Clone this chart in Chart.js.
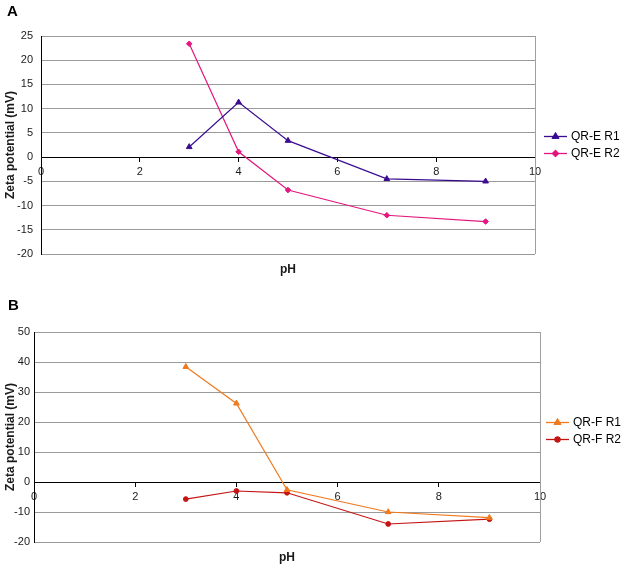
<!DOCTYPE html>
<html>
<head>
<meta charset="utf-8">
<script src="https://cdn.jsdelivr.net/npm/chart.js@4"></script>
<style>
  html, body { margin: 0; padding: 0; background: #fff; }
  .panel { position: absolute; left: 0; width: 622px; height: 285px; }
  #pa { top: 0; }
  #pb { top: 285px; }
</style>
</head>
<body>
<div class="panel" id="pa"><canvas id="ca" width="622" height="285"></canvas></div>
<div class="panel" id="pb"><canvas id="cb" width="622" height="285"></canvas></div>
<script>
// ---- data ----
const phValues = [3, 4, 5, 7, 9];
const qrER1 = [2.1, 11.3, 3.4, -4.5, -5.0];
const qrER2 = [23.4, 1.1, -6.8, -12.0, -13.3];
const qrFR1 = [38.4, 26.2, -2.6, -10.0, -11.9];
const qrFR2 = [-5.7, -3.0, -3.6, -14.0, -12.4];
const xTicksRange = [0, 10, 2];
const yRangeA = [-20, 25, 5];
const yRangeB = [-20, 50, 10];
const labelsA = ['QR-E R1', 'QR-E R2'];
const labelsB = ['QR-F R1', 'QR-F R2'];

const FONT = "'Liberation Sans', Arial, Helvetica, sans-serif";

function pts(xs, ys) { return xs.map((x, i) => ({ x: x, y: ys[i] })); }

const decorPlugin = {
  id: 'decor',
  afterDraw(chart, args, opts) {
    const ctx = chart.ctx;
    const ca = chart.chartArea;
    ctx.save();
    // right border of plot area
    ctx.strokeStyle = '#a0a0a0';
    ctx.lineWidth = 1;
    ctx.beginPath();
    ctx.moveTo(Math.round(ca.right) + 0.5, ca.top);
    ctx.lineTo(Math.round(ca.right) + 0.5, ca.bottom);
    ctx.stroke();
    // panel letter
    ctx.fillStyle = '#000';
    ctx.font = 'bold 15px ' + FONT;
    ctx.textBaseline = 'top';
    ctx.textAlign = 'left';
    ctx.fillText(opts.letter, opts.letterX, opts.letterY);
    // legend
    ctx.font = '12px ' + FONT;
    ctx.textBaseline = 'middle';
    chart.data.datasets.forEach((ds, i) => {
      const y = opts.legendY[i];
      const x0 = opts.legendX, x1 = opts.legendX + 23;
      ctx.strokeStyle = ds.borderColor;
      ctx.lineWidth = 1.3;
      ctx.beginPath();
      ctx.moveTo(x0, y + 0.5);
      ctx.lineTo(x1, y + 0.5);
      ctx.stroke();
      Chart.helpers.drawPoint(ctx, {
        pointStyle: ds.pointStyle, radius: ds.pointRadius, borderWidth: 1, rotation: 0
      }, (x0 + x1) / 2, y + 0.5);
      ctx.fillStyle = ds.pointBackgroundColor;
      ctx.strokeStyle = ds.borderColor;
      ctx.fill();
      ctx.stroke();
      ctx.fillStyle = '#000';
      ctx.fillText(ds.label, x1 + 4, y + 1);
    });
    ctx.restore();
  }
};

function makeChart(canvasId, sets, yr, lay) {
  return new Chart(document.getElementById(canvasId), {
    type: 'line',
    data: {
      datasets: sets.map(s => ({
        label: s.label,
        data: pts(phValues, s.values),
        xAxisID: 'x',
        yAxisID: 'y',
        borderColor: s.color,
        backgroundColor: s.color,
        pointBackgroundColor: s.color,
        pointBorderColor: s.color,
        pointStyle: s.style,
        pointRadius: s.radius,
        pointBorderWidth: 1,
        borderWidth: 1.2,
        tension: 0,
        fill: false
      }))
    },
    options: {
      responsive: false,
      animation: false,
      devicePixelRatio: 1,
      layout: { padding: { left: 0, top: lay.top, right: lay.right, bottom: 0 } },
      plugins: {
        legend: { display: false },
        tooltip: { enabled: false },
        decor: lay.decor
      },
      scales: {
        x: {
          type: 'linear',
          position: { y: 0 },
          min: xTicksRange[0], max: xTicksRange[1],
          ticks: { stepSize: xTicksRange[2], color: '#1a1a1a', font: { family: FONT, size: 11 }, padding: 4, maxRotation: 0 },
          grid: { drawOnChartArea: false, drawTicks: true, tickLength: 4, color: '#000' },
          border: { display: true, color: '#000', width: 1 }
        },
        x2: {
          type: 'linear',
          position: 'bottom',
          min: xTicksRange[0], max: xTicksRange[1],
          ticks: { display: false },
          grid: { display: false },
          border: { display: false },
          title: { display: true, text: 'pH', color: '#1a1a1a', font: { family: FONT, size: 12, weight: 'bold' }, padding: { top: 0, bottom: lay.phPad } },
          afterFit: s => { s.height = lay.x2h; }
        },
        y: {
          type: 'linear',
          position: 'left',
          min: yr[0], max: yr[1],
          ticks: { stepSize: yr[2], color: '#1a1a1a', font: { family: FONT, size: 11 }, padding: lay.yPad },
          grid: {
            drawTicks: false,
            color: c => (c.tick && c.tick.value === 0) ? '#000' : '#9a9a9a',
            lineWidth: 1
          },
          border: { display: true, color: '#000', width: 1 },
          title: { display: true, text: 'Zeta potential (mV)', color: '#1a1a1a', font: { family: FONT, size: 12, weight: 'bold' }, padding: { top: 3, bottom: 0 } },
          afterFit: s => { s.width = lay.yw; }
        }
      }
    },
    plugins: [decorPlugin]
  });
}

makeChart('ca', [
  { label: labelsA[0], values: qrER1, color: '#3b0c90', style: 'triangle', radius: 3.3 },
  { label: labelsA[1], values: qrER2, color: '#e3177f', style: 'rectRot', radius: 2.8 }
], yRangeA, {
  top: 36, right: 87, x2h: 31, phPad: 8, yw: 41, yPad: 8,
  decor: { letter: 'A', letterX: 7, letterY: 4, legendX: 544, legendY: [136, 153] }
});

makeChart('cb', [
  { label: labelsB[0], values: qrFR1, color: '#f07a1e', style: 'triangle', radius: 3.3 },
  { label: labelsB[1], values: qrFR2, color: '#c41414', style: 'circle', radius: 2.4 }
], yRangeB, {
  top: 47, right: 82, x2h: 28, phPad: 5, yw: 34, yPad: 4,
  decor: { letter: 'B', letterX: 8, letterY: 13, legendX: 546, legendY: [137, 154] }
});
</script>
</body>
</html>
